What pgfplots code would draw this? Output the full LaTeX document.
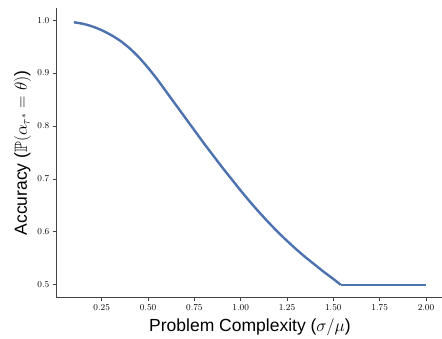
\documentclass[border=0pt]{standalone}
\usepackage{pgfplots}
\pgfplotsset{compat=1.18}
\usepackage{amssymb}
\usepackage{fontspec}
\newfontfamily\labelfont{Liberation Sans}
\definecolor{sbblue}{HTML}{4C72B0}
\definecolor{spine}{HTML}{444444}
\begin{document}
\begin{tikzpicture}[x=1pt,y=1pt]
\begin{axis}[
  at={(0,0)}, anchor=south west,
  scale only axis, width=387.3pt, height=289pt,
  xmin=0.005, xmax=2.095, ymin=0.476, ymax=1.022,
  axis x line*=bottom, axis y line*=left,
  axis line style={spine, line width=0.8pt},
  tick align=outside, major tick length=3.5pt,
  tick style={spine, line width=0.8pt},
  xtick={0.25,0.5,...,2.0},
  ytick={0.5,0.6,...,1.0},
  xticklabel style={font=\fontsize{9.5}{10}\selectfont, /pgf/number format/.cd, fixed, fixed zerofill, precision=2},
  yticklabel style={font=\fontsize{9.5}{10}\selectfont, /pgf/number format/.cd, fixed, fixed zerofill, precision=1},
  xlabel={\labelfont Problem Complexity ($\sigma/\mu$)},
  ylabel={\labelfont Accuracy ($\mathbb{P}(\alpha_{\tau^*}=\theta)$)},
  label style={font=\fontsize{17.5}{20}\selectfont},
  xlabel style={at={(axis description cs:0.5,0)}, anchor=base, yshift=-34pt},
  ylabel style={at={(axis description cs:0,0.5)}, anchor=base, yshift=29.3pt},
  clip=false,
]
\addplot[sbblue, line width=2.4pt, smooth, tension=0.5] coordinates {
(0.10,0.996) (0.15,0.993) (0.20,0.988) (0.25,0.981) (0.30,0.972)
(0.35,0.961) (0.40,0.947) (0.45,0.930) (0.50,0.910) (0.55,0.888)
(0.60,0.864) (0.65,0.840) (0.70,0.816) (0.75,0.792) (0.80,0.768)
(0.85,0.745) (0.90,0.722) (0.95,0.700) (1.00,0.678) (1.05,0.657)
(1.10,0.637) (1.15,0.618) (1.20,0.600) (1.25,0.583) (1.30,0.567)
(1.35,0.552) (1.40,0.538) (1.45,0.524) (1.50,0.511) (1.54,0.500)};
\addplot[sbblue, line width=2.4pt] coordinates {(1.54,0.500) (2.00,0.500)};
\end{axis}
\pgfresetboundingbox
\path (-56.3,-41.5) rectangle (385.7,297.5);
\end{tikzpicture}
\end{document}
